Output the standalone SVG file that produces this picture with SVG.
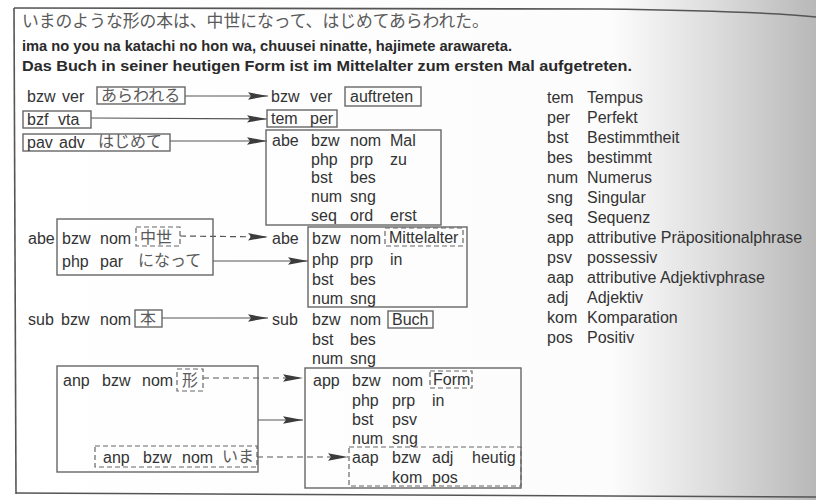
<svg xmlns="http://www.w3.org/2000/svg" width="816" height="500" viewBox="0 0 816 500">
<defs>
<linearGradient id="page" x1="0" y1="0" x2="1" y2="0">
<stop offset="0" stop-color="#ffffff"/>
<stop offset="0.75" stop-color="#fcfcfc"/>
<stop offset="0.87" stop-color="#dedede"/>
<stop offset="1" stop-color="#b8b8b8"/>
</linearGradient>
<marker id="ah" markerUnits="userSpaceOnUse" markerWidth="22" markerHeight="10" refX="20" refY="4" orient="auto"><path d="M0,0.3 L20,4 L0,7.7 L3,4 z" fill="#3c3c3c"/></marker>
<style>
.t{font-family:"Liberation Sans",Arial,sans-serif;font-size:16px;fill:#333}
.h{font-family:"Liberation Sans",Arial,sans-serif;font-size:15px;font-weight:bold;fill:#2a2a2a}
.j{font-family:"Liberation Sans","Noto Sans CJK JP",sans-serif;font-size:16px;fill:#5a5a5a}
.b{fill:none;stroke:#666;stroke-width:1.4}
.d{fill:none;stroke:#666;stroke-width:1.2;stroke-dasharray:5 3}
.c{fill:none;stroke:#555;stroke-width:1.2}
.cd{fill:none;stroke:#555;stroke-width:1.2;stroke-dasharray:6 4}
.f{fill:none;stroke:#555;stroke-width:1.6}
</style>
</defs>
<rect x="0" y="0" width="816" height="500" fill="url(#page)"/>
<g id="frame">
<path class="f" d="M14,8 L600,9 Q760,11 816,17"/>
<path class="f" d="M14,8 L16,494"/>
<path class="f" d="M16,493 L816,497"/>
</g>
<g id="header">
<text class="j" x="22" y="27" style="font-size:16.8px">いまのような形の本は、中世になって、はじめてあらわれた。</text>
<text class="h" x="22" y="51" textLength="490" lengthAdjust="spacingAndGlyphs">ima no you na katachi no hon wa, chuusei ninatte, hajimete arawareta.</text>
<text class="h" x="22" y="71" textLength="610" lengthAdjust="spacingAndGlyphs">Das Buch in seiner heutigen Form ist im Mittelalter zum ersten Mal aufgetreten.</text>
</g>
<g id="connectors">
<line class="c" x1="185" y1="96" x2="268" y2="96" marker-end="url(#ah)"/>
<line class="c" x1="91" y1="118" x2="267" y2="119" marker-end="url(#ah)"/>
<line class="c" x1="170" y1="141" x2="267" y2="141" marker-end="url(#ah)"/>
<line class="cd" x1="180" y1="236" x2="268" y2="237" marker-end="url(#ah)"/>
<line class="c" x1="213" y1="261" x2="308" y2="261" marker-end="url(#ah)"/>
<line class="c" x1="162" y1="318" x2="268" y2="318" marker-end="url(#ah)"/>
<line class="cd" x1="203" y1="378" x2="303" y2="378" marker-end="url(#ah)"/>
<line class="c" x1="258" y1="420" x2="303" y2="420" marker-end="url(#ah)"/>
<line class="cd" x1="257" y1="457" x2="348" y2="457" marker-end="url(#ah)"/>
</g>
<g id="src-arawareru">
<text class="t" x="27" y="102">bzw</text><text class="t" x="62" y="102">ver</text>
<rect class="b" x="97" y="87" width="88" height="17"/>
<text class="j" x="101" y="101">あらわれる</text>
</g>
<g id="src-bzf">
<rect class="b" x="23" y="111" width="68" height="17"/>
<text class="t" x="27" y="125">bzf</text><text class="t" x="58" y="125">vta</text>
</g>
<g id="src-hajimete">
<rect class="b" x="23" y="134" width="147" height="17"/>
<text class="t" x="27" y="148">pav</text><text class="t" x="59" y="148">adv</text>
<text class="j" x="98" y="147">はじめて</text>
</g>
<g id="tgt-auftreten">
<text class="t" x="271" y="102">bzw</text><text class="t" x="310" y="102">ver</text>
<rect class="b" x="345" y="87" width="76" height="19"/>
<text class="t" x="350" y="102">auftreten</text>
</g>
<g id="tgt-tem">
<rect class="b" x="267" y="110" width="70" height="17"/>
<text class="t" x="271" y="124">tem</text><text class="t" x="310" y="124">per</text>
</g>
<g id="tgt-mal">
<rect class="b" x="266" y="130" width="175" height="95"/>
<text class="t" x="272" y="146">abe</text><text class="t" x="311" y="146">bzw</text><text class="t" x="350" y="146">nom</text><text class="t" x="390" y="146">Mal</text>
<text class="t" x="311" y="165">php</text><text class="t" x="350" y="165">prp</text><text class="t" x="390" y="165">zu</text>
<text class="t" x="311" y="183">bst</text><text class="t" x="350" y="183">bes</text>
<text class="t" x="311" y="202">num</text><text class="t" x="350" y="202">sng</text>
<text class="t" x="311" y="221">seq</text><text class="t" x="350" y="221">ord</text><text class="t" x="390" y="221">erst</text>
</g>
<g id="src-chuusei">
<text class="t" x="28" y="244">abe</text>
<rect class="b" x="57" y="219" width="156" height="56"/>
<text class="t" x="62" y="244">bzw</text><text class="t" x="100" y="244">nom</text>
<rect class="d" x="136" y="227" width="44" height="19"/>
<text class="j" x="140" y="243">中世</text>
<text class="t" x="62" y="267">php</text><text class="t" x="100" y="267">par</text>
<text class="j" x="138" y="266">になって</text>
</g>
<g id="tgt-mittelalter">
<text class="t" x="272" y="244">abe</text>
<rect class="b" x="308" y="227" width="159" height="80"/>
<text class="t" x="312" y="244">bzw</text><text class="t" x="350" y="244">nom</text>
<rect class="d" x="385" y="228" width="78" height="18"/>
<text class="t" x="389" y="243">Mittelalter</text>
<text class="t" x="312" y="265">php</text><text class="t" x="350" y="265">prp</text><text class="t" x="390" y="265">in</text>
<text class="t" x="312" y="285">bst</text><text class="t" x="350" y="285">bes</text>
<text class="t" x="312" y="304">num</text><text class="t" x="350" y="304">sng</text>
</g>
<g id="src-hon">
<text class="t" x="28" y="325">sub</text><text class="t" x="61" y="325">bzw</text><text class="t" x="100" y="325">nom</text>
<rect class="b" x="135" y="310" width="27" height="17"/>
<text class="j" x="140" y="324">本</text>
</g>
<g id="tgt-buch">
<text class="t" x="272" y="325">sub</text><text class="t" x="312" y="325">bzw</text><text class="t" x="350" y="325">nom</text>
<rect class="b" x="388" y="311" width="45" height="17"/>
<text class="t" x="392" y="325">Buch</text>
<text class="t" x="312" y="345">bst</text><text class="t" x="350" y="345">bes</text>
<text class="t" x="312" y="364">num</text><text class="t" x="350" y="364">sng</text>
</g>
<g id="src-katachi">
<rect class="b" x="57" y="366" width="201" height="106"/>
<text class="t" x="63" y="386">anp</text><text class="t" x="102" y="386">bzw</text><text class="t" x="142" y="386">nom</text>
<rect class="d" x="177" y="369" width="26" height="22"/>
<text class="j" x="182" y="386">形</text>
</g>
<g id="src-ima">
<rect class="d" x="95" y="446" width="162" height="21"/>
<text class="t" x="103" y="463">anp</text><text class="t" x="143" y="463">bzw</text><text class="t" x="182" y="463">nom</text>
<text class="j" x="222" y="462">いま</text>
</g>
<g id="tgt-form">
<rect class="b" x="305" y="368" width="216" height="120"/>
<text class="t" x="313" y="386">app</text><text class="t" x="352" y="386">bzw</text><text class="t" x="392" y="386">nom</text>
<rect class="d" x="430" y="371" width="42" height="17"/>
<text class="t" x="433" y="385">Form</text>
<text class="t" x="352" y="406">php</text><text class="t" x="392" y="406">prp</text><text class="t" x="432" y="406">in</text>
<text class="t" x="352" y="425">bst</text><text class="t" x="392" y="425">psv</text>
<text class="t" x="352" y="444">num</text><text class="t" x="392" y="444">sng</text>
</g>
<g id="tgt-heutig">
<rect class="d" x="349" y="447" width="172" height="39"/>
<text class="t" x="352" y="463">aap</text><text class="t" x="392" y="463">bzw</text><text class="t" x="432" y="463">adj</text><text class="t" x="472" y="463">heutig</text>
<text class="t" x="392" y="483">kom</text><text class="t" x="432" y="483">pos</text>
</g>
<g id="legend">
<text class="t" x="547" y="103">tem</text><text class="t" x="587" y="103">Tempus</text>
<text class="t" x="547" y="123">per</text><text class="t" x="587" y="123">Perfekt</text>
<text class="t" x="547" y="143">bst</text><text class="t" x="587" y="143">Bestimmtheit</text>
<text class="t" x="547" y="163">bes</text><text class="t" x="587" y="163">bestimmt</text>
<text class="t" x="547" y="183">num</text><text class="t" x="587" y="183">Numerus</text>
<text class="t" x="547" y="203">sng</text><text class="t" x="587" y="203">Singular</text>
<text class="t" x="547" y="223">seq</text><text class="t" x="587" y="223">Sequenz</text>
<text class="t" x="547" y="243">app</text><text class="t" x="587" y="243">attributive Präpositionalphrase</text>
<text class="t" x="547" y="263">psv</text><text class="t" x="587" y="263">possessiv</text>
<text class="t" x="547" y="283">aap</text><text class="t" x="587" y="283">attributive Adjektivphrase</text>
<text class="t" x="547" y="303">adj</text><text class="t" x="587" y="303">Adjektiv</text>
<text class="t" x="547" y="323">kom</text><text class="t" x="587" y="323">Komparation</text>
<text class="t" x="547" y="343">pos</text><text class="t" x="587" y="343">Positiv</text>
</g>
</svg>
